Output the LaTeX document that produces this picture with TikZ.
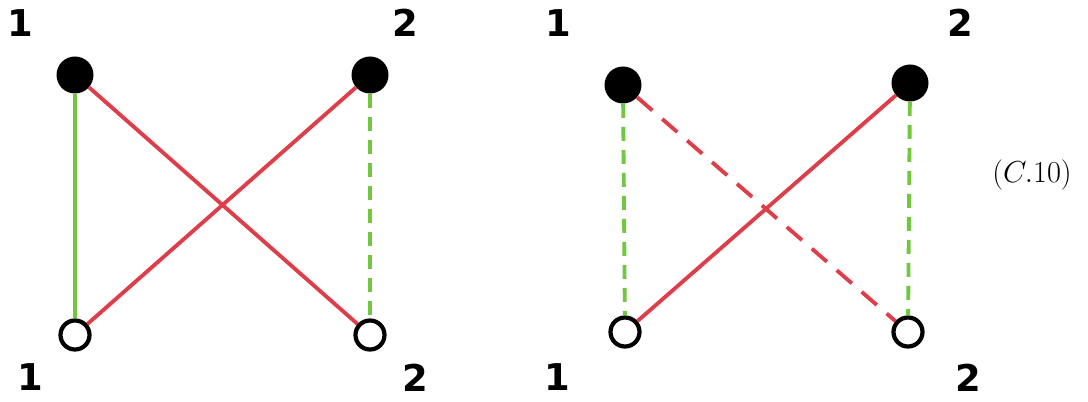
\documentclass[tikz,border=0pt]{standalone}
\usepackage{fontspec}
\newfontfamily\lblfont{DejaVu Sans}
\usepackage{tikz}
\usetikzlibrary{positioning}

\definecolor{edgered}{RGB}{222,62,74}
\definecolor{edgegreen}{RGB}{112,200,64}

\begin{document}
\begin{tikzpicture}[
      vfill/.style={circle, fill=black, inner sep=0pt, minimum size=0.74cm},
      vopen/.style={circle, draw=black, line width=2.4pt, fill=white, inner sep=0pt, minimum size=0.58cm},
      lbl/.style={font=\lblfont\bfseries\fontsize{21}{24}\selectfont},
      rline/.style={edgered, line width=2.2pt},
      gline/.style={edgegreen, line width=2.2pt},
      gdash/.style={gline, dash pattern=on 0.28cm off 0.18cm},
      rdash/.style={rline, dash pattern=on 0.4cm off 0.26cm},
    ]
    \useasboundingbox (0,0) rectangle (21.76,8.02);

    % left diagram
    \node[vfill] (a1) at (1.5,6.52) {};
    \node[vfill] (a2) at (7.4,6.52) {};
    \node[vopen] (b1) at (1.5,1.32) {};
    \node[vopen] (b2) at (7.4,1.32) {};
    \node[lbl] (la1) at (0.4,7.56) {1};
    \node[lbl] (la2) at (8.1,7.56) {2};
    \node[lbl] (lb1) at (0.6,0.48) {1};
    \node[lbl] (lb2) at (8.3,0.46) {2};

    \draw[gline] (a1) -- (b1);
    \draw[gdash] (a2) -- (b2);
    \draw[rline] (a1) -- (b2);
    \draw[rline] (a2) -- (b1);

    % right diagram
    \node[vfill] (c1) at (12.46,6.32) {};
    \node[vfill] (c2) at (18.2,6.36) {};
    \node[vopen] (d1) at (12.5,1.38) {};
    \node[vopen] (d2) at (18.16,1.38) {};
    \node[lbl] (lc1) at (11.16,7.56) {1};
    \node[lbl] (lc2) at (19.2,7.56) {2};
    \node[lbl] (ld1) at (11.14,0.48) {1};
    \node[lbl] (ld2) at (19.36,0.46) {2};

    \draw[gdash] (c1) -- (d1);
    \draw[gdash] (c2) -- (d2);
    \draw[rdash] (c1) -- (d2);
    \draw[rline] (c2) -- (d1);

    \node[font=\fontsize{17.6}{21}\selectfont] (eq) at (20.64,4.52) {$(C.10)$};
  \end{tikzpicture}
\end{document}
